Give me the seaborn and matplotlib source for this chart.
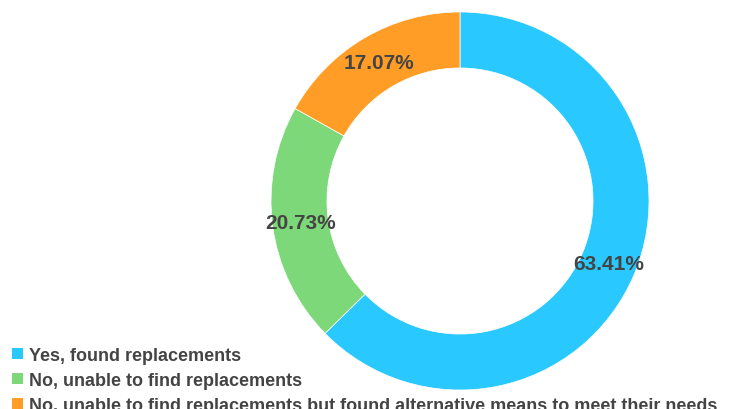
import matplotlib
matplotlib.use("Agg")
import matplotlib.pyplot as plt
import seaborn as sns
from matplotlib.patches import Patch

sns.set_style("white")
plt.rcParams['font.family'] = ['Liberation Sans', 'DejaVu Sans']

categories = ["Yes, found replacements",
              "No, unable to find replacements",
              "No, unable to find replacements but found alternative means to meet their needs"]
values = [63.41, 20.73, 17.07]
colors = ["#29C8FF", "#7DD87A", "#FF9D27"]
text_color = "#444444"

W, H = 736, 410
fig = plt.figure(figsize=(W / 100, H / 100), dpi=100)
cx, cy, R = 460, 202, 189
ax = fig.add_axes([(cx - R) / W, (H - cy - R) / H, 2 * R / W, 2 * R / H])

wedges, texts, autotexts = ax.pie(
    values, colors=colors, startangle=90, counterclock=False, radius=1,
    wedgeprops=dict(width=0.296, edgecolor='white', linewidth=0.5),
    autopct="%.2f", pctdistance=0.852,
    textprops=dict(color=text_color, fontsize=15, fontweight='bold'))
for t, v in zip(autotexts, values):
    t.set_text(f"{v:.2f}%")

ax.set_xlim(-1, 1)
ax.set_ylim(-1, 1)
ax.set_aspect('equal')
ax.axis('off')

handles = [Patch(facecolor=c, edgecolor='none') for c in colors]
fig.legend(handles, categories, loc='upper left',
           bbox_to_anchor=(12 / W, 1 - 348 / H), bbox_transform=fig.transFigure,
           frameon=False, borderpad=0, borderaxespad=0,
           handlelength=0.6, handleheight=0.6, handletextpad=0.35,
           labelspacing=0.45,
           prop=dict(weight='bold', size=13), labelcolor=text_color)

fig.savefig("out.png", dpi=100, facecolor='white')
